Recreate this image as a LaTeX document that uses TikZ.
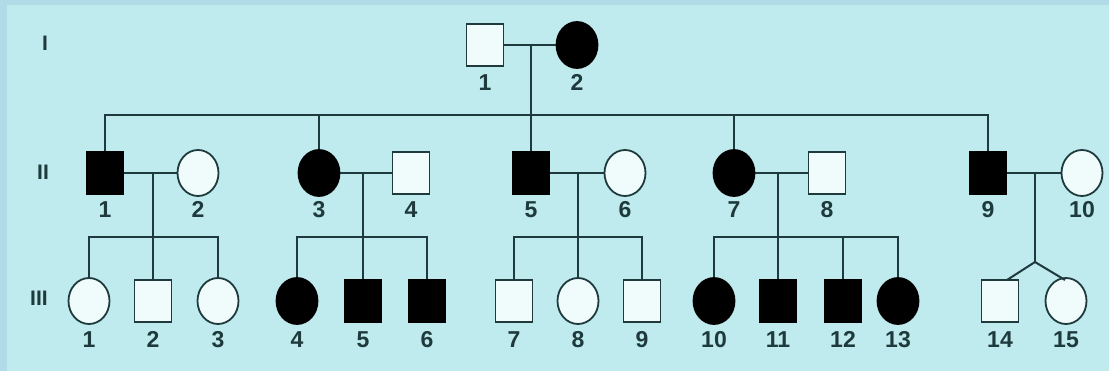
\documentclass[tikz,border=0pt]{standalone}
\usepackage{fontspec}
\setmainfont{Liberation Sans}
\usetikzlibrary{shapes.geometric}
\definecolor{bgc}{HTML}{C0EBEE}
\definecolor{framec}{HTML}{B1DBE6}
\definecolor{ink}{HTML}{1E3A3C}
\definecolor{openc}{HTML}{F0FBFC}
\tikzset{
  male/.style={rectangle,draw=ink,line width=1.8pt,minimum width=37pt,minimum height=42pt,inner sep=0pt},
  female/.style={ellipse,draw=ink,line width=1.8pt,minimum width=41pt,minimum height=46pt,inner sep=0pt},
  aff/.style={fill=black,draw=black},
  unaff/.style={fill=openc},
  lab/.style={text=ink,font=\fontsize{23}{23}\selectfont\bfseries,inner sep=0pt,anchor=base},
  gen/.style={text=ink,font=\fontsize{21}{21}\selectfont\bfseries,inner sep=0pt},
  conn/.style={draw=ink,line width=2.5pt}
}
\begin{document}
\begin{tikzpicture}[x=1pt,y=-1pt]
\fill[framec] (0,0) rectangle (1109,371);
\fill[bgc] (7,5) rectangle (1109,371);
\useasboundingbox (0,0) rectangle (1109,371);

% generation labels
\node[gen] (gI) at (45,43) {I};
\node[gen] (gII) at (43,172) {II};
\node[gen] (gIII) at (39,298) {III};

\coordinate (yI) at (0,91);
\coordinate (yII) at (0,218);
\coordinate (yIII) at (0,348);

% generation I
\node[male,unaff] (i1) at (485,45) {};
\node[female,aff] (i2) at (577,45) {};
\foreach \n/\t in {i1/1,i2/2}
  \node[lab] (l-\n) at (\n.center |- yI) {\t};

% generation II
\node[male,aff] (ii1) at (105,173) {};
\node[female,unaff] (ii2) at (198,173) {};
\node[female,aff] (ii3) at (319,173) {};
\node[male,unaff] (ii4) at (411,173) {};
\node[male,aff] (ii5) at (531,173) {};
\node[female,unaff] (ii6) at (625,173) {};
\node[female,aff] (ii7) at (734,173) {};
\node[male,unaff] (ii8) at (827,173) {};
\node[male,aff] (ii9) at (988,173) {};
\node[female,unaff] (ii10) at (1082,173) {};
\foreach \n/\t in {ii1/1,ii2/2,ii3/3,ii4/4,ii5/5,ii6/6,ii7/7,ii8/8,ii9/9,ii10/10}
  \node[lab] (l-\n) at (\n.center |- yII) {\t};

% generation III
\node[female,unaff] (iii1) at (89,301) {};
\node[male,unaff] (iii2) at (153,301) {};
\node[female,unaff] (iii3) at (218,301) {};
\node[female,aff] (iii4) at (297,301) {};
\node[male,aff] (iii5) at (363,301) {};
\node[male,aff] (iii6) at (427,301) {};
\node[male,unaff] (iii7) at (514,301) {};
\node[female,unaff] (iii8) at (578,301) {};
\node[male,unaff] (iii9) at (642,301) {};
\node[female,aff] (iii10) at (714,301) {};
\node[male,aff] (iii11) at (778,301) {};
\node[male,aff] (iii12) at (843,301) {};
\node[female,aff] (iii13) at (898,301) {};
\node[male,unaff] (iii14) at (1000,301) {};
\node[female,unaff] (iii15) at (1066,301) {};
\foreach \n/\t in {iii1/1,iii2/2,iii3/3,iii4/4,iii5/5,iii6/6,iii7/7,iii8/8,iii9/9,iii10/10,iii11/11,iii12/12,iii13/13,iii14/14,iii15/15}
  \node[lab] (l-\n) at (\n.center |- yIII) {\t};

% marriage mid points and sibship bars
\coordinate (mI) at (531,45);
\coordinate (sII) at (531,115);
\coordinate (m1) at (153,173);
\coordinate (m3) at (363,173);
\coordinate (m5) at (578,173);
\coordinate (m7) at (778,173);
\coordinate (m9) at (1035,173);
\coordinate (s1) at (153,237);
\coordinate (s3) at (363,237);
\coordinate (s5) at (578,237);
\coordinate (s7) at (778,237);
\coordinate (tw) at (1035,262);
\coordinate (t14) at (1007,280);
\coordinate (t15) at (1065,280);

% generation I
\draw[conn] (i1.east) -- (i2.west);
\draw[conn] (mI) -- (ii5.north);
\draw[conn] (ii1.north) -- (ii1.north |- sII) -- (ii9.north |- sII) -- (ii9.north);
\draw[conn] (ii3.north |- sII) -- (ii3.north);
\draw[conn] (ii7.north |- sII) -- (ii7.north);

% II-1 x II-2
\draw[conn] (ii1.east) -- (ii2.west);
\draw[conn] (m1) -- (iii2.north);
\draw[conn] (iii1.north) -- (iii1.north |- s1) -- (iii3.north |- s1) -- (iii3.north);

% II-3 x II-4
\draw[conn] (ii3.east) -- (ii4.west);
\draw[conn] (m3) -- (iii5.north);
\draw[conn] (iii4.north) -- (iii4.north |- s3) -- (iii6.north |- s3) -- (iii6.north);

% II-5 x II-6
\draw[conn] (ii5.east) -- (ii6.west);
\draw[conn] (m5) -- (iii8.north);
\draw[conn] (iii7.north) -- (iii7.north |- s5) -- (iii9.north |- s5) -- (iii9.north);

% II-7 x II-8
\draw[conn] (ii7.east) -- (ii8.west);
\draw[conn] (m7) -- (iii11.north);
\draw[conn] (iii10.north) -- (iii10.north |- s7) -- (iii13.north |- s7) -- (iii13.north);
\draw[conn] (iii12.north |- s7) -- (iii12.north);

% II-9 x II-10, twins
\draw[conn] (ii9.east) -- (ii10.west);
\draw[conn] (m9) -- (tw);
\draw[conn,line width=2pt] (t14) -- (tw) -- (t15);
\end{tikzpicture}
\end{document}
